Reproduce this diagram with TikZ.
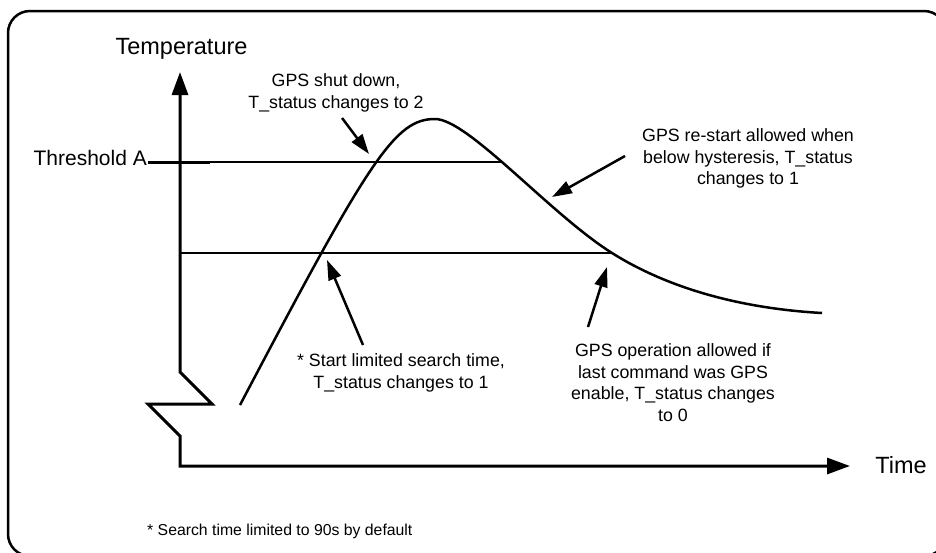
\documentclass[tikz,border=0pt]{standalone}
\usepackage{fontspec}
\setmainfont{Liberation Sans}
\usetikzlibrary{arrows.meta}
\begin{document}
\begin{tikzpicture}[x=1pt,y=-1pt,
  frame/.style={line width=2.5pt, rounded corners=22pt},
  axisline/.style={line width=3pt, {Triangle[length=23pt,width=16pt]}-{Triangle[length=23pt,width=16pt]}},
  thinline/.style={line width=1.2pt},
  thickseg/.style={line width=3pt},
  curveline/.style={line width=2.5pt},
  callout/.style={line width=2.5pt, -{Triangle[length=20pt,width=13pt]}},
  note/.style={font=\fontsize{17.8}{21.7}\selectfont, align=center, inner sep=0pt, anchor=north},
  axislabel/.style={font=\fontsize{23.5}{28}\selectfont, inner sep=0pt, anchor=base}]
\useasboundingbox (0,0) rectangle (936,552);
\fill[white] (0,0) rectangle (936,552);
\draw[frame] (8,11) rectangle (946,556);

% axes
\coordinate (ytip) at (180,72);
\coordinate (b1) at (180,372);
\coordinate (b2) at (212,404);
\coordinate (b3) at (148,404);
\coordinate (b4) at (180,436);
\coordinate (origin) at (180,466);
\coordinate (xtip) at (850,466);
\draw[axisline] (ytip) -- (b1) -- (b2) -- (b3) -- (b4) -- (origin) -- (xtip);

% threshold and hysteresis lines
\coordinate (thrL) at (148,162);
\coordinate (thrM) at (210,162);
\coordinate (thrR) at (503,162);
\draw[thickseg] (thrL) -- (thrM);
\draw[thinline] (thrM) -- (thrR);
\coordinate (hysL) at (180,253);
\coordinate (hysR) at (612,253);
\draw[thinline] (hysL) -- (hysR);

% temperature curve
\coordinate (cstart) at (240,405);
\coordinate (cpeak) at (435,119);
\coordinate (cmid) at (612,253);
\coordinate (cend) at (822,313);
\draw[curveline] (cstart) .. controls (370,158) and (395,119) .. (cpeak)
  .. controls (468,119) and (550,214) .. (cmid)
  .. controls (674,292) and (750,309) .. (cend);

% labels
\node[axislabel] (ylab) at (181.5,54) {Temperature};
\node[axislabel] (xlab) at (901,473) {Time};
\node[font=\fontsize{21}{25}\selectfont, inner sep=0pt, anchor=base east] (thr) at (147,165) {Threshold A};

\node[note] (n1) at (336,73.4) {GPS shut down,\\T\_status changes to 2};
\node[note] (n2) at (748,128.4) {GPS re-start allowed when\\below hysteresis, T\_status\\changes to 1};
\node[note] (n3) at (401,353.4) {* Start limited search time,\\T\_status changes to 1};
\node[note] (n4) at (673,343.4) {GPS operation allowed if\\last command was GPS\\enable, T\_status changes\\to 0};
\node[font=\fontsize{15.8}{19}\selectfont, inner sep=0pt, anchor=base west] (foot) at (147,535.5) {* Search time limited to 90s by default};

% callout arrows
\coordinate (a1s) at (342,118); \coordinate (a1e) at (369,154);
\coordinate (a2s) at (625,156); \coordinate (a2e) at (552,197);
\coordinate (a3s) at (363,345); \coordinate (a3e) at (327,260);
\coordinate (a4s) at (588,327); \coordinate (a4e) at (607,267);
\draw[callout] (a1s) -- (a1e);
\draw[callout] (a2s) -- (a2e);
\draw[callout] (a3s) -- (a3e);
\draw[callout] (a4s) -- (a4e);
\end{tikzpicture}
\end{document}
